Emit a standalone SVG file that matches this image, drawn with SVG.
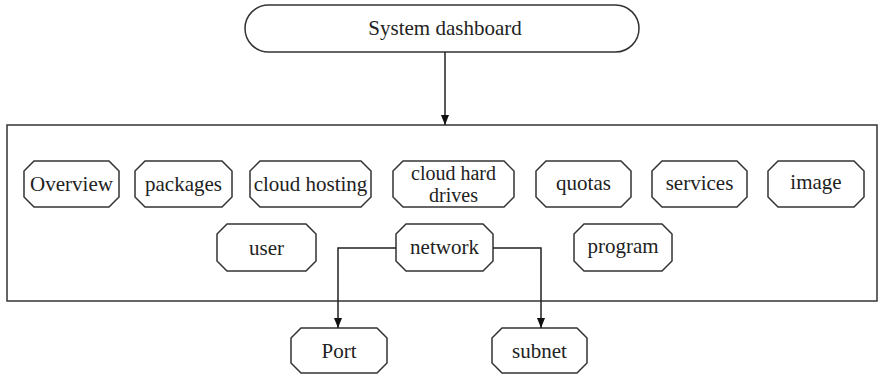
<svg xmlns="http://www.w3.org/2000/svg" width="879" height="375" viewBox="0 0 879 375">
<defs>
<style>
.n{fill:#fff;stroke:#333;stroke-width:1.5}
.t{font-family:"Liberation Serif","Times New Roman",serif;font-size:21px;fill:#222;text-anchor:middle}
.t2{font-size:20px}
.c{fill:none;stroke:#222;stroke-width:1.5}
</style>
<marker id="ah" markerWidth="10" markerHeight="14" refX="10" refY="5" orient="auto" markerUnits="userSpaceOnUse" viewBox="0 0 10 10">
<path d="M0,1 L10,5 L0,9 Z" fill="#111"/>
</marker>
</defs>
<rect width="879" height="375" fill="#fff"/>
<g id="container">
<rect x="7" y="125" width="870" height="176" fill="none" stroke="#333" stroke-width="1.5"/>
</g>
<g id="dashboard">
<rect class="n" x="245" y="5" width="394" height="47" rx="23.5" ry="23.5"/>
<text class="t" x="445" y="35">System dashboard</text>
</g>
<g id="overview">
<path class="n" d="M34,161 H109 L119,171 V197 L109,207 H34 L24,197 V171 Z"/>
<text class="t" x="71.5" y="191">Overview</text>
</g>
<g id="packages">
<path class="n" d="M145,161 H222 L232,171 V197 L222,207 H145 L135,197 V171 Z"/>
<text class="t" x="183.5" y="191">packages</text>
</g>
<g id="cloud-hosting">
<path class="n" d="M260,161 H361 L371,171 V197 L361,207 H260 L250,197 V171 Z"/>
<text class="t" x="310.5" y="191">cloud hosting</text>
</g>
<g id="cloud-hard-drives">
<path class="n" d="M403,161 H504 L514,171 V197 L504,207 H403 L393,197 V171 Z"/>
<text class="t t2" x="453.5" y="179.5">cloud hard</text>
<text class="t t2" x="453.5" y="201.5">drives</text>
</g>
<g id="quotas">
<path class="n" d="M546,161 H621 L631,171 V197 L621,207 H546 L536,197 V171 Z"/>
<text class="t" x="583.5" y="190">quotas</text>
</g>
<g id="services">
<path class="n" d="M662,161 H737 L747,171 V197 L737,207 H662 L652,197 V171 Z"/>
<text class="t" x="699.5" y="190">services</text>
</g>
<g id="image">
<path class="n" d="M778,161 H854 L864,171 V197 L854,207 H778 L768,197 V171 Z"/>
<text class="t" x="816" y="189">image</text>
</g>
<g id="user">
<path class="n" d="M227,224 H306 L316,234 V261 L306,271 H227 L217,261 V234 Z"/>
<text class="t" x="266.5" y="255">user</text>
</g>
<g id="network">
<path class="n" d="M406,224 H483 L493,234 V261 L483,271 H406 L396,261 V234 Z"/>
<text class="t" x="444.5" y="254">network</text>
</g>
<g id="program">
<path class="n" d="M584,224 H662 L672,234 V261 L662,271 H584 L574,261 V234 Z"/>
<text class="t" x="623" y="253">program</text>
</g>
<g id="port">
<path class="n" d="M301,328 H377 L387,338 V363 L377,373 H301 L291,363 V338 Z"/>
<text class="t" x="339" y="358">Port</text>
</g>
<g id="subnet">
<path class="n" d="M502,328 H577 L587,338 V363 L577,373 H502 L492,363 V338 Z"/>
<text class="t" x="539.5" y="358">subnet</text>
</g>
<g id="connectors">
<path class="c" d="M445,52 V125" marker-end="url(#ah)"/>
<path class="c" d="M396,248 H338 V328" marker-end="url(#ah)"/>
<path class="c" d="M493,248 H541 V328" marker-end="url(#ah)"/>
</g>
</svg>
